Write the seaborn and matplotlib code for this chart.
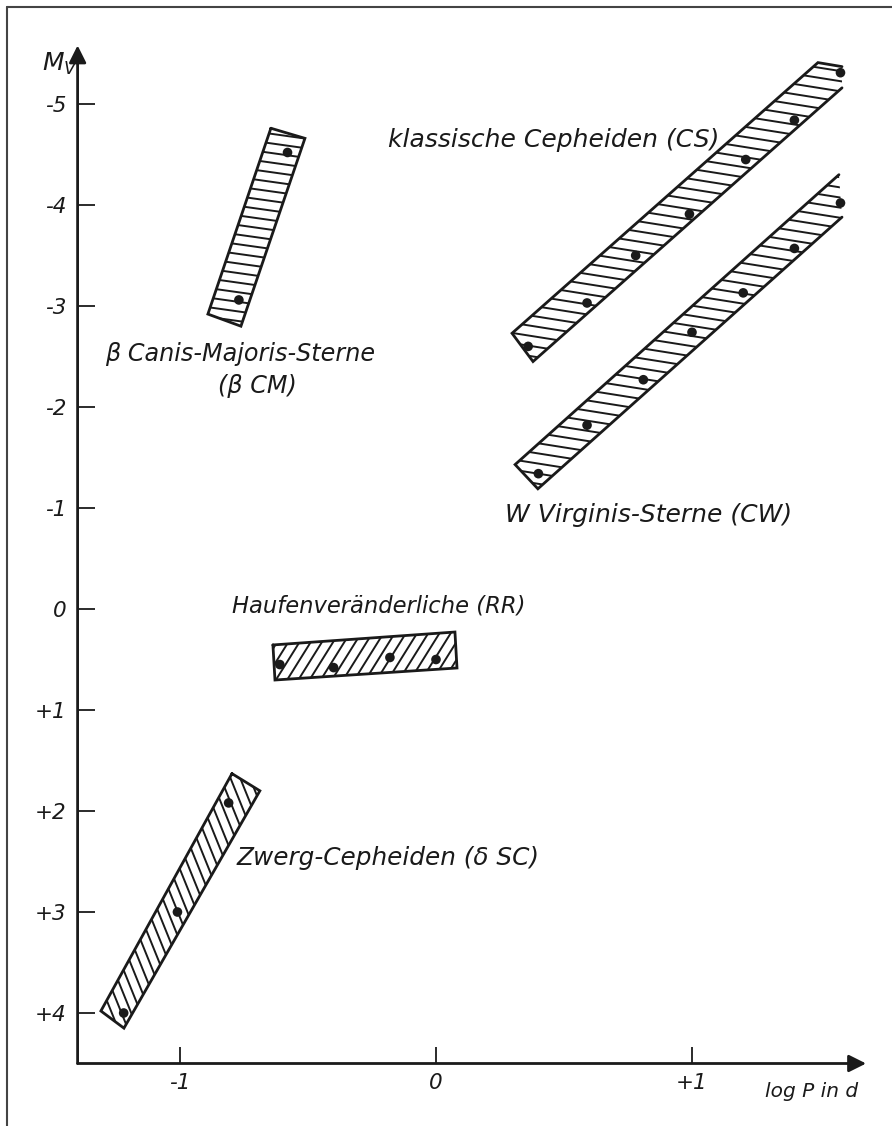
import numpy as np
import pandas as pd
import matplotlib
matplotlib.use("Agg")
import matplotlib.pyplot as plt
import seaborn as sns
from matplotlib.patches import Polygon
from matplotlib.lines import Line2D

# ---------------- data ----------------
# classical Cepheids (CS)
cs_logp = [0.36, 0.59, 0.78, 0.99, 1.21, 1.40, 1.58]
cs_mv = [-2.60, -3.03, -3.50, -3.91, -4.45, -4.84, -5.31]
cs_band_logp = [1.586, 1.492, 0.297, 0.379, 1.586]
cs_band_mv = [-5.37, -5.41, -2.73, -2.45, -5.16]

# W Virginis stars (CW)
cw_logp = [0.40, 0.59, 0.81, 1.00, 1.20, 1.40, 1.58]
cw_mv = [-1.34, -1.82, -2.27, -2.74, -3.13, -3.57, -4.02]
cw_band_logp = [1.574, 0.309, 0.398, 1.586]
cw_band_mv = [-4.30, -1.43, -1.19, -3.88]

# beta Canis Majoris stars (beta CM)
bcm_logp = [-0.58, -0.77]
bcm_mv = [-4.52, -3.06]
bcm_band_logp = [-0.645, -0.512, -0.762, -0.891]
bcm_band_mv = [-4.76, -4.66, -2.80, -2.92]

# RR Lyrae (RR)
rr_logp = [-0.61, -0.40, -0.18, 0.00]
rr_mv = [0.55, 0.58, 0.48, 0.50]
rr_band_logp = [-0.637, 0.074, 0.082, -0.629]
rr_band_mv = [0.356, 0.228, 0.584, 0.703]

# dwarf Cepheids (delta SC)
dsc_logp = [-0.81, -1.01, -1.22]
dsc_mv = [1.92, 3.00, 4.00]
dsc_band_logp = [-0.797, -0.688, -1.219, -1.309]
dsc_band_mv = [1.63, 1.80, 4.15, 3.98]

x_ticks = [-1, 0, 1]
x_tick_labels = ["-1", "0", "+1"]
y_ticks = [-5, -4, -3, -2, -1, 0, 1, 2, 3, 4]
y_tick_labels = ["-5", "-4", "-3", "-2", "-1", "0", "+1", "+2", "+3", "+4"]

labels = {
    "CS": "klassische Cepheiden (CS)",
    "BCM1": "β Canis-Majoris-Sterne",
    "BCM2": "(β CM)",
    "CW": "W Virginis-Sterne (CW)",
    "RR": "Haufenveränderliche (RR)",
    "DSC": "Zwerg-Cepheiden (δ SC)",
}

# ---------------- figure ----------------
sns.set_style("white")
plt.rcParams['font.family'] = ['DejaVu Sans']
INK = '#1a1a1a'
FONT = dict(family='DejaVu Sans', style='italic', color=INK)

W, H = 892, 1126
fig = plt.figure(figsize=(W / 100, H / 100), dpi=100)
XMIN, XMAX = -1.40, 1.75
YBOT, YTOP = 4.5, -5.6
PX_X, PX_Y = 256.0, 101.0
ax_left = (436 + PX_X * XMIN) / W
ax_w = PX_X * (XMAX - XMIN) / W
ax_bottom = (H - (609 + PX_Y * YBOT)) / H
ax_h = PX_Y * (YBOT - YTOP) / H
ax = fig.add_axes([ax_left, ax_bottom, ax_w, ax_h])
ax.set_xlim(XMIN, XMAX)
ax.set_ylim(YBOT, YTOP)
for s in ax.spines.values():
    s.set_visible(False)


def hatch_band(xs, ys, angle_deg, spacing_px, closed=True, lw_edge=2.0, lw_hatch=1.4):
    pts = np.column_stack([xs, ys])
    poly = Polygon(pts, closed=True, facecolor='white', edgecolor='none', zorder=2)
    ax.add_patch(poly)
    # pixel-like coordinates (y up)
    P = np.column_stack([pts[:, 0] * PX_X, -pts[:, 1] * PX_Y])
    a = np.deg2rad(angle_deg)
    d = np.array([np.cos(a), np.sin(a)])
    n = np.array([-np.sin(a), np.cos(a)])
    tn = P @ n
    td = P @ d
    for t in np.arange(tn.min() + spacing_px / 2, tn.max(), spacing_px):
        p0 = t * n + (td.min() - 10) * d
        p1 = t * n + (td.max() + 10) * d
        lx = [p0[0] / PX_X, p1[0] / PX_X]
        ly = [-p0[1] / PX_Y, -p1[1] / PX_Y]
        ln, = ax.plot(lx, ly, color=INK, lw=lw_hatch, zorder=3, solid_capstyle='butt')
        ln.set_clip_path(poly)
    ox, oy = list(xs), list(ys)
    if closed:
        ox.append(xs[0])
        oy.append(ys[0])
    ax.plot(ox, oy, color=INK, lw=lw_edge, zorder=4, solid_joinstyle='miter')


hatch_band(cs_band_logp, cs_band_mv, -9, 10.0, closed=False)
hatch_band(cw_band_logp, cw_band_mv, -9, 10.0, closed=False)
hatch_band(bcm_band_logp, bcm_band_mv, -8, 9.5)
hatch_band(rr_band_logp, rr_band_mv, 58, 9.5)
hatch_band(dsc_band_logp, dsc_band_mv, 112, 9.0)

pts = pd.DataFrame({
    "logP": cs_logp + cw_logp + bcm_logp + rr_logp + dsc_logp,
    "Mv": cs_mv + cw_mv + bcm_mv + rr_mv + dsc_mv,
})
sns.scatterplot(data=pts, x="logP", y="Mv", ax=ax, color=INK, s=48,
                edgecolor='none', zorder=5, legend=False)
ax.set_xlabel("")
ax.set_ylabel("")

# axes with arrows
ax.annotate('', xy=(1.68, YBOT), xytext=(XMIN, YBOT), annotation_clip=False,
            arrowprops=dict(arrowstyle='-|>', lw=2.0, color=INK, mutation_scale=26,
                            shrinkA=0, shrinkB=0))
ax.annotate('', xy=(XMIN, -5.58), xytext=(XMIN, YBOT), annotation_clip=False,
            arrowprops=dict(arrowstyle='-|>', lw=2.0, color=INK, mutation_scale=26,
                            shrinkA=0, shrinkB=0))

ax.set_xticks(x_ticks)
ax.set_xticklabels(x_tick_labels)
ax.set_yticks(y_ticks)
ax.set_yticklabels(y_tick_labels)
ax.tick_params(axis='both', direction='in', length=12, width=1.3, color=INK)
ax.tick_params(axis='x', pad=7, bottom=True)
ax.tick_params(axis='y', pad=8, left=True)
for lab in ax.get_xticklabels() + ax.get_yticklabels():
    lab.set_fontfamily('DejaVu Sans')
    lab.set_fontstyle('italic')
    lab.set_fontsize(15.5)
    lab.set_color(INK)

# labels
ax.text(-0.1875, -4.64, labels["CS"], ha='left', va='center', fontsize=18.0, **FONT)
ax.text(-1.293, -2.525, labels["BCM1"], ha='left', va='center', fontsize=17.2, **FONT)
ax.text(-0.852, -2.21, labels["BCM2"], ha='left', va='center', fontsize=17.2, **FONT)
ax.text(0.270, -0.93, labels["CW"], ha='left', va='center', fontsize=18.0, **FONT)
ax.text(-0.797, -0.03, labels["RR"], ha='left', va='center', fontsize=16.3, **FONT)
ax.text(-0.781, 2.47, labels["DSC"], ha='left', va='center', fontsize=17.8, **FONT)
ax.text(1.285, 4.78, "log P in d", ha='left', va='center', clip_on=False,
        fontsize=14.5, **FONT)
ax.text(-1.54, -5.40, r"$M_V$", ha='left', va='center', clip_on=False,
        fontsize=18, color=INK)

# scan frame (left and top edges)
fig.add_artist(Line2D([7 / W, 7 / W], [0, 1 - 7 / H], color='#444444', lw=1.5))
fig.add_artist(Line2D([7 / W, 1], [1 - 7 / H, 1 - 7 / H], color='#444444', lw=1.5))

fig.savefig("out.png", dpi=100)
